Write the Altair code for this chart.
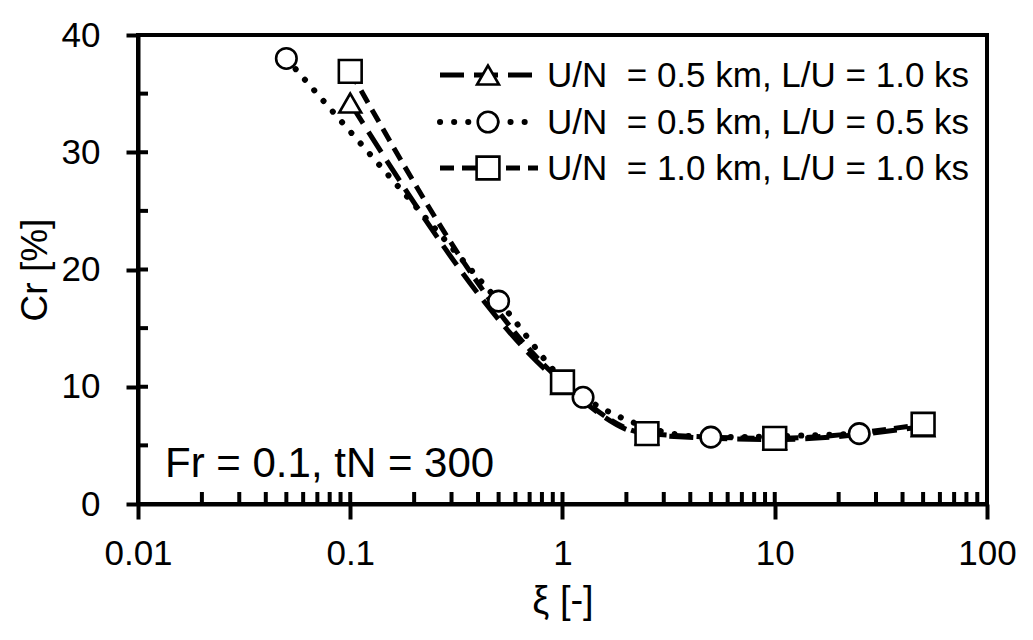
import altair as alt
import pandas as pd

# ---------------- data ----------------
tri_x = [0.1, 1, 2.5, 10, 50]
tri_y = [34.2, 10.2, 5.9, 5.5, 6.6]
cir_x = [0.05, 0.5, 1.25, 5, 25]
cir_y = [38.0, 17.3, 9.1, 5.7, 6.0]
sq_x = [0.1, 1, 2.5, 10, 50]
sq_y = [36.9, 10.4, 6.0, 5.6, 6.8]

labels = [
    "U/N \u00a0= 0.5 km, L/U = 1.0 ks",
    "U/N \u00a0= 0.5 km, L/U = 0.5 ks",
    "U/N \u00a0= 1.0 km, L/U = 1.0 ks",
]

x_major = [0.01, 0.1, 1, 10, 100]
x_minor = [0.02, 0.03, 0.04, 0.05, 0.06, 0.07, 0.08, 0.09,
           0.2, 0.3, 0.4, 0.5, 0.6, 0.7, 0.8, 0.9,
           2, 3, 4, 5, 6, 7, 8, 9,
           20, 30, 40, 50, 60, 70, 80, 90]
y_major = [0, 10, 20, 30, 40]
y_minor = [5, 15, 25, 35]

annotation = "Fr = 0.1, tN = 300"

# ---------------- layout / style ----------------
W, H = 849, 469
FONT = "Liberation Sans, Arial, sans-serif"

xscale = alt.Scale(type="log", domain=[0.01, 100])
yscale = alt.Scale(domain=[0, 40])

series = [
    dict(x=tri_x, y=tri_y, label=labels[0], shape="triangle-up", dash=[24, 10], cap="butt", width=5, size=480),
    dict(x=cir_x, y=cir_y, label=labels[1], shape="circle", dash=[0.1, 14], cap="round", width=6, size=420),
    dict(x=sq_x, y=sq_y, label=labels[2], shape="square", dash=[14, 8], cap="butt", width=5, size=520),
]

xaxis = alt.Axis(values=x_major, format="~g", tickSize=15, labelPadding=17,
                 labelFontSize=35, labelFont=FONT, labelFlush=False, labelOverlap=False,
                 title="ξ [-]", titleFont=FONT, titleFontSize=38, titleFontWeight="normal",
                 titleX=W / 2, titleY=78, titleBaseline="top", titleAlign="center",
                 grid=False)
yaxis = alt.Axis(values=y_major, tickSize=12, labelPadding=26,
                 labelFontSize=35, labelFont=FONT, labelOverlap=False,
                 title="Cr [%]", titleFont=FONT, titleFontSize=37, titleFontWeight="normal",
                 titleX=-84, titleY=H / 2, titleAlign="center", titleBaseline="bottom",
                 grid=False)

layers = []

# lines
for s in series:
    df = pd.DataFrame({"xi": s["x"], "cr": s["y"]})
    layers.append(
        alt.Chart(df).mark_line(color="black", strokeWidth=s["width"], strokeDash=s["dash"],
                                strokeCap=s["cap"], interpolate="monotone")
        .encode(x=alt.X("xi:Q", scale=xscale, axis=xaxis),
                y=alt.Y("cr:Q", scale=yscale, axis=yaxis))
    )

# markers
for s in series:
    df = pd.DataFrame({"xi": s["x"], "cr": s["y"]})
    layers.append(
        alt.Chart(df).mark_point(shape=s["shape"], size=s["size"], filled=True,
                                 fill="white", stroke="black", strokeWidth=2.6, opacity=1)
        .encode(x=alt.X("xi:Q", scale=xscale), y=alt.Y("cr:Q", scale=yscale))
    )

# inward ticks (x axis)
xt = pd.DataFrame({"v": x_major + x_minor})
layers.append(
    alt.Chart(xt).mark_rule(color="black", strokeWidth=4)
    .encode(x=alt.X("v:Q", scale=xscale), y=alt.value(H), y2=alt.value(H - 12))
)
# inward ticks (y axis)
yt = pd.DataFrame({"v": y_major + y_minor})
layers.append(
    alt.Chart(yt).mark_rule(color="black", strokeWidth=4)
    .encode(y=alt.Y("v:Q", scale=yscale), x=alt.value(0), x2=alt.value(10))
)

# plot frame (top and right edges)
fd = pd.DataFrame({"k": [0]})
layers.append(
    alt.Chart(fd).mark_rule(color="black", strokeWidth=4)
    .encode(x=alt.value(0), x2=alt.value(W), y=alt.value(0))
)
layers.append(
    alt.Chart(fd).mark_rule(color="black", strokeWidth=4)
    .encode(x=alt.value(W), y=alt.value(0), y2=alt.value(H))
)

# legend (drawn inside the plot, upper right)
leg_y = [40, 87, 133]
for s, ly in zip(series, leg_y):
    ld = pd.DataFrame({"label": [s["label"]]})
    layers.append(
        alt.Chart(ld).mark_rule(color="black", strokeWidth=s["width"], strokeDash=s["dash"], strokeCap=s["cap"])
        .encode(x=alt.value(302), x2=alt.value(400), y=alt.value(ly))
    )
    layers.append(
        alt.Chart(ld).mark_point(shape=s["shape"], size=s["size"], filled=True,
                                 fill="white", stroke="black", strokeWidth=2.6, opacity=1)
        .encode(x=alt.value(350), y=alt.value(ly))
    )
    layers.append(
        alt.Chart(ld).mark_text(align="left", baseline="middle", font=FONT, fontSize=35, color="black")
        .encode(x=alt.value(409), y=alt.value(ly + 1), text="label:N")
    )

# annotation
ad = pd.DataFrame({"t": [annotation]})
layers.append(
    alt.Chart(ad).mark_text(align="left", baseline="alphabetic", font=FONT, fontSize=42, color="black")
    .encode(x=alt.value(27), y=alt.value(442), text="t:N")
)

chart = (
    alt.layer(*layers)
    .properties(width=W, height=H, background="white",
                autosize=alt.AutoSizeParams(type="none"),
                padding={"left": 130, "top": 27, "right": 30, "bottom": 128})
    .configure_view(stroke="black", strokeWidth=4)
    .configure_axis(domainColor="black", domainWidth=4, tickColor="black", tickWidth=4,
                    labelColor="black", titleColor="black")
)

chart.save("out.html", embed_options={"renderer": "svg", "actions": False})
